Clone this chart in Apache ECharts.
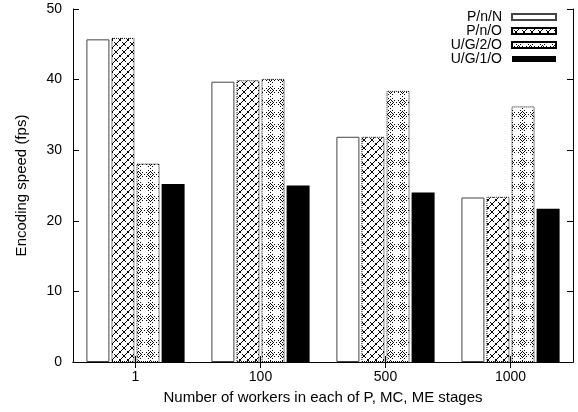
<!DOCTYPE html>
<html>
<head>
<meta charset="utf-8">
<script src="https://cdn.jsdelivr.net/npm/echarts@6/dist/echarts.min.js"></script>
<style>
html,body{margin:0;padding:0;background:#fff;}
#chart{width:578px;height:412px;}
</style>
</head>
<body>
<div id="chart"></div>
<script>
const categories = ['1', '100', '500', '1000'];
const seriesNames = ['P/n/N', 'P/n/O', 'U/G/2/O', 'U/G/1/O'];
const pnN = [45.7, 39.7, 31.9, 23.3];
const pnO = [45.9, 39.9, 31.9, 23.4];
const ug2O = [28.1, 40.1, 38.4, 36.2];
const ug1O = [25.2, 25.0, 24.0, 21.7];
const yTicks = [0, 10, 20, 30, 40, 50];

function makeTile(size, fn) {
  const c = document.createElement('canvas');
  c.width = size; c.height = size;
  const ctx = c.getContext('2d');
  ctx.fillStyle = '#fff';
  ctx.fillRect(0, 0, size, size);
  ctx.fillStyle = '#000';
  for (let y = 0; y < size; y++) {
    for (let x = 0; x < size; x++) {
      if (fn(x, y)) ctx.fillRect(x, y, 1, 1);
    }
  }
  return c;
}
// cross-hatch (X lattice), slightly broken lines
const tileCross = makeTile(8, (x, y) => ((x === y) || (x === 7 - y)) && !(x === 1 && y === 1) && !(x === 6 && y === 6));
// nested dotted diamonds
const tileDiamond = makeTile(12, (x, y) => {
  const d = Math.abs(x - 6) + Math.abs(y - 6);
  if (d === 6 && (x % 2 === 0)) return true;
  if (d === 3) return true;
  if (d === 0) return true;
  return false;
});

const font = 'Liberation Sans, Arial, Helvetica, sans-serif';

const chart = echarts.init(document.getElementById('chart'), null, {renderer: 'canvas'});

const common = {
  type: 'bar',
  barWidth: 23,
  barGap: '9%',
  xAxisIndex: 0,
  yAxisIndex: 0
};

chart.setOption({
  animation: false,
  backgroundColor: '#fff',
  grid: {left: 73, right: 5, top: 9, bottom: 50, containLabel: false},
  legend: {
    orient: 'vertical',
    right: 21,
    top: 10,
    padding: 0,
    align: 'right',
    icon: 'rect',
    itemWidth: 44,
    itemHeight: 6,
    itemGap: 0,
    textStyle: {fontFamily: font, fontSize: 14, color: '#000', lineHeight: 13, padding: [0, 5, 0, 0]},
    data: seriesNames
  },
  xAxis: [{
    type: 'category',
    data: categories,
    position: 'bottom',
    name: 'Number of workers in each of P, MC, ME stages',
    nameLocation: 'middle',
    nameGap: 28,
    nameTextStyle: {fontFamily: font, fontSize: 15, color: '#000'},
    axisLine: {lineStyle: {color: '#000', width: 1}},
    axisTick: {show: true, inside: true, alignWithLabel: true, length: 6, lineStyle: {color: '#000'}},
    axisLabel: {fontFamily: font, fontSize: 14, color: '#000', margin: 8},
    splitLine: {show: false}
  }, {
    type: 'category',
    data: categories,
    position: 'top',
    axisLine: {lineStyle: {color: '#000', width: 1}},
    axisTick: {show: true, inside: true, alignWithLabel: true, length: 6, lineStyle: {color: '#000'}},
    axisLabel: {show: false},
    splitLine: {show: false}
  }],
  yAxis: [{
    type: 'value',
    min: yTicks[0],
    max: yTicks[yTicks.length - 1],
    interval: 10,
    name: 'Encoding speed (fps)',
    nameLocation: 'middle',
    nameGap: 44,
    nameTextStyle: {fontFamily: font, fontSize: 15, color: '#000'},
    axisLine: {show: true, lineStyle: {color: '#000', width: 1}},
    axisTick: {show: true, inside: true, length: 6, lineStyle: {color: '#000'}},
    axisLabel: {fontFamily: font, fontSize: 14, color: '#000', margin: 11},
    splitLine: {show: false}
  }, {
    type: 'value',
    min: yTicks[0],
    max: yTicks[yTicks.length - 1],
    interval: 10,
    position: 'right',
    axisLine: {show: true, lineStyle: {color: '#000', width: 1}},
    axisTick: {show: true, inside: true, length: 6, lineStyle: {color: '#000'}},
    axisLabel: {show: false},
    splitLine: {show: false}
  }],
  series: [
    Object.assign({}, common, {
      name: seriesNames[0], data: pnN,
      itemStyle: {color: '#fff', borderColor: '#444', borderWidth: 1}
    }),
    Object.assign({}, common, {
      name: seriesNames[1], data: pnO,
      itemStyle: {color: {image: tileCross, repeat: 'repeat'}, borderColor: '#000', borderWidth: 1, borderType: [1, 1]}
    }),
    Object.assign({}, common, {
      name: seriesNames[2], data: ug2O,
      itemStyle: {color: {image: tileDiamond, repeat: 'repeat'}, borderColor: '#000', borderWidth: 1, borderType: [1, 1]}
    }),
    Object.assign({}, common, {
      name: seriesNames[3], data: ug1O,
      itemStyle: {color: '#000', borderColor: '#000', borderWidth: 0}
    })
  ]
});
</script>
</body>
</html>
